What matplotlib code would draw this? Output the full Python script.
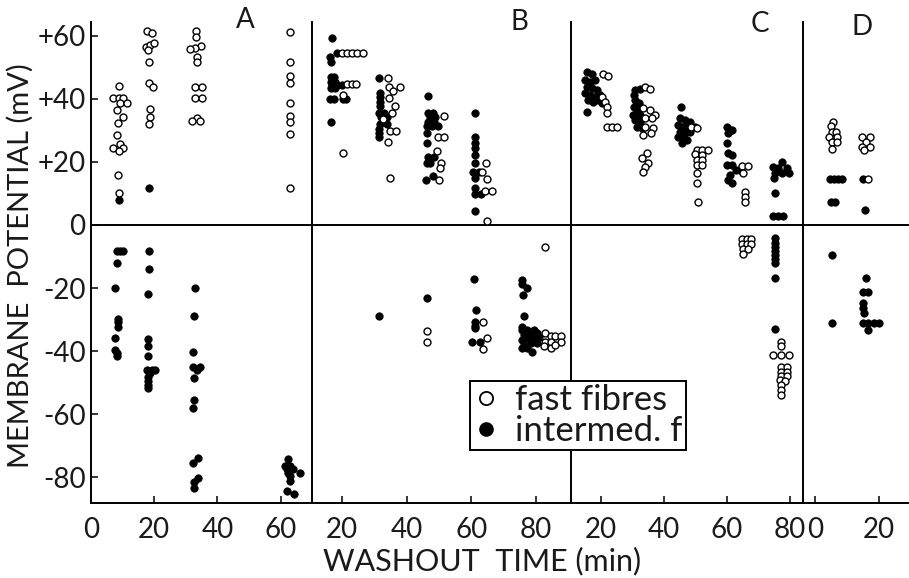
import matplotlib
matplotlib.use('Agg')
import matplotlib.pyplot as plt
from matplotlib.lines import Line2D

FONT = ['Lato', 'DejaVu Sans']
plt.rcParams['font.family'] = FONT
plt.rcParams['font.weight'] = 'normal'

# ---------------- data (washout time in min, membrane potential in mV) ----------------
panel_labels = ['A', 'B', 'C', 'D']

# Panel A
a_open_x = [9.0, 7.1, 9.0, 10.2, 9.2, 11.3, 8.1, 10.0, 8.6, 8.1, 9.2, 7.1, 10.2, 9.0, 8.6, 9.0,
            17.6, 19.2, 17.4, 18.7, 19.9, 17.9, 18.4, 18.4, 19.7, 18.7, 18.7, 18.4,
            33.2, 33.2, 34.8, 32.9, 31.3, 33.4, 33.4, 32.9, 35.0, 32.9, 35.0, 33.4, 32.1, 34.5,
            63.0, 63.0, 63.0, 63.0, 63.0, 63.0, 63.0, 63.0, 63.0]
a_open_y = [44.0, 40.1, 40.1, 40.1, 38.6, 38.6, 36.4, 34.3, 32.3, 28.5, 25.7, 24.5, 24.5, 23.4, 15.8, 10.1,
            61.6, 60.7, 56.5, 57.0, 57.5, 55.4, 51.7, 45.1, 43.6, 36.6, 34.3, 31.9,
            61.6, 59.7, 56.7, 56.2, 55.6, 53.3, 51.7, 43.8, 43.8, 40.1, 40.1, 33.8, 33.0, 33.0,
            61.2, 51.7, 47.2, 45.1, 38.7, 34.5, 32.7, 28.8, 11.6]
a_fill_x = [9.0, 18.4,
            8.1, 9.2, 10.0, 8.3, 7.6, 8.4, 8.4, 8.6, 7.6, 7.6, 8.1, 8.1,
            18.4, 18.4, 17.9, 17.9, 17.9, 18.1, 17.6, 19.2, 20.3, 18.7, 18.1, 18.1, 17.9, 17.9,
            32.9, 32.6, 32.4, 32.4, 34.5, 33.4, 32.6, 32.6, 32.4, 34.0, 32.4, 33.8, 32.6, 32.6,
            62.4, 61.4, 63.0, 61.9, 64.0, 62.4, 66.1, 63.0, 62.8, 61.9, 64.3]
a_fill_y = [7.9, 11.6,
            -8.2, -8.2, -8.2, -11.9, -20.1, -29.9, -30.9, -32.2, -35.9, -39.6, -40.6, -41.5,
            -8.2, -13.9, -21.9, -36.2, -38.5, -41.5, -45.9, -45.9, -45.9, -47.0, -48.1, -49.6, -50.7, -51.7,
            -20.1, -29.0, -40.1, -45.1, -45.1, -46.1, -48.4, -55.4, -58.1, -73.9, -75.3, -80.2, -81.6, -83.4,
            -74.2, -76.5, -76.5, -77.4, -77.4, -78.7, -78.7, -79.7, -81.0, -84.2, -85.3]

# Panel B
b_open_x = [19.9, 21.4, 23.0, 24.6, 26.4, 21.4, 23.0, 24.2, 20.4, 20.4,
            34.1, 34.4, 37.8, 35.7, 34.6, 36.5, 35.4, 32.8, 34.9, 36.8, 34.1, 34.9,
            51.7, 49.6, 51.7, 49.4, 50.6, 50.2, 49.9,
            64.7, 63.4, 64.9, 64.4, 66.5, 64.9,
            82.8, 46.3, 46.3, 63.7, 64.9, 63.7,
            83.0, 84.6, 86.1, 87.9, 83.0, 84.6, 87.9, 82.5, 84.6, 86.1]
b_open_y = [54.4, 54.4, 54.4, 54.4, 54.4, 44.7, 44.7, 44.7, 41.2, 22.9,
            46.5, 43.7, 43.7, 42.5, 40.1, 37.7, 35.6, 33.5, 29.9, 29.9, 26.2, 14.8,
            34.5, 28.0, 28.0, 23.5, 19.7, 18.0, 14.3,
            19.5, 16.9, 14.5, 10.9, 10.9, 1.4,
            -6.9, -33.6, -37.0, -30.8, -35.9, -39.4,
            -34.1, -35.3, -35.3, -35.3, -37.2, -37.2, -37.2, -38.5, -39.1, -38.0]
b_fill_x = [16.8, 18.4, 16.3, 16.5, 16.5, 17.5, 16.5, 17.8, 16.8, 18.4, 19.9, 16.5, 17.8, 16.3, 17.5, 20.4, 21.2, 16.5,
            31.6, 31.8, 31.8, 31.8, 31.8, 31.3, 33.0, 32.0, 33.9, 33.0, 31.8, 33.9, 31.3, 31.5, 31.5,
            46.6, 46.5, 48.2, 47.3, 48.9, 46.5, 48.4, 46.3, 47.9, 49.7, 46.3, 46.3, 46.5, 48.4, 46.3, 47.3, 48.2, 46.0,
            61.1, 61.3, 61.1, 61.1, 61.1, 61.1, 60.6, 62.3, 61.1, 61.1, 61.1, 62.9, 61.1,
            61.0, 46.3, 31.5, 61.5, 61.1, 61.1, 61.1, 60.3, 62.6,
            75.8, 75.8, 77.4, 76.1, 76.3, 75.8,
            75.8, 77.4, 79.4, 76.3, 78.4, 80.4, 75.8, 77.4, 79.4, 81.0, 76.3, 78.4, 80.4, 77.4, 78.9, 75.8]
b_fill_y = [59.1, 54.4, 53.1, 51.7, 46.8, 46.8, 45.4, 45.4, 44.3, 44.3, 44.3, 43.3, 43.3, 39.8, 39.8, 39.8, 39.8, 32.7,
            46.5, 41.9, 40.6, 39.1, 37.7, 35.4, 35.4, 34.3, 34.3, 33.0, 32.0, 32.0, 30.3, 29.2, 28.0,
            40.9, 35.6, 35.6, 34.3, 34.3, 32.7, 32.7, 31.4, 31.4, 31.4, 29.2, 25.9, 21.6, 21.6, 19.5, 19.5, 15.5, 14.3,
            35.6, 27.8, 26.1, 24.3, 22.2, 19.5, 16.9, 16.9, 14.8, 11.6, 9.8, 9.8, 4.5,
            -17.2, -23.0, -29.0, -26.9, -30.6, -32.0, -32.7, -37.0, -37.0,
            -17.4, -18.7, -20.1, -22.2, -29.0, -32.2,
            -33.3, -33.3, -33.3, -34.9, -34.9, -34.3, -36.4, -35.9, -35.9, -35.4, -38.0, -37.5, -37.5, -39.1, -40.1, -39.1]

# Panel C
c_open_x = [20.7, 22.3, 20.2, 21.3, 21.8, 21.8, 21.8, 23.4, 25.0,
            34.0, 35.6, 33.4, 35.6, 37.1, 34.0, 36.1, 34.0, 36.6, 33.4, 35.8, 34.5, 33.1, 35.0, 34.0, 33.4,
            48.6, 50.4, 50.4, 52.2, 53.9, 49.8, 52.0, 50.4, 52.0, 50.4, 52.0, 50.6, 50.6, 50.9,
            64.7, 66.6, 65.2, 65.7, 65.7, 65.7,
            64.7, 66.3, 67.6, 64.7, 66.3, 67.6, 65.2, 66.8, 65.2,
            77.1, 77.1, 74.7, 77.1, 79.5,
            77.1, 79.0, 77.1, 79.0, 77.1, 79.0, 76.8, 78.4, 77.1, 77.1, 77.1]
c_open_y = [47.8, 47.2, 40.6, 39.1, 37.5, 35.6, 31.1, 31.1, 31.1,
            43.8, 43.2, 37.0, 36.4, 34.8, 33.8, 33.8, 31.1, 30.6, 28.5, 29.0, 22.7, 21.1, 19.5, 18.5, 16.9,
            30.9, 30.6, 23.8, 23.8, 23.8, 22.6, 22.2, 20.7, 20.5, 19.0, 19.0, 16.6, 13.2, 7.4,
            18.8, 18.8, 16.4, 10.5, 9.0, 7.4,
            -4.5, -4.5, -4.5, -6.0, -6.0, -6.0, -7.7, -7.7, -9.3,
            -37.0, -38.5, -41.2, -41.2, -41.2,
            -44.9, -44.9, -46.5, -46.5, -47.8, -47.8, -49.1, -49.6, -50.7, -52.3, -53.8]
c_fill_x = [15.5, 17.1, 14.9, 16.5, 18.1, 15.5, 17.1, 18.6, 14.9, 16.5, 18.1, 19.7, 16.0, 17.6, 19.1, 20.2, 15.5,
            30.8, 32.4, 30.6, 30.8, 32.1, 30.6, 31.3, 30.3, 32.4, 30.8, 32.4, 31.3, 32.9,
            45.4, 45.1, 46.7, 48.3, 44.5, 46.1, 47.7, 45.1, 46.7, 48.3, 44.5, 46.1, 45.6, 47.2, 49.8,
            59.9, 61.5, 60.4, 59.9, 60.2, 61.5, 59.9, 61.5, 62.8, 60.9, 60.4, 61.5, 64.1,
            77.4, 74.7, 76.3, 79.0, 75.2, 77.4, 79.5, 75.0, 75.2, 74.7, 76.3, 77.9,
            75.2, 75.2, 75.2, 75.2, 75.2, 75.2, 75.2, 75.2, 75.2]
c_fill_y = [48.3, 47.8, 45.9, 45.4, 45.9, 43.8, 43.3, 42.8, 41.7, 41.2, 40.6, 41.2, 39.6, 39.1, 39.6, 38.6, 35.9,
            42.8, 43.1, 41.2, 39.6, 38.6, 37.5, 36.5, 34.8, 34.8, 33.2, 32.7, 31.1, 30.6,
            37.3, 33.8, 33.2, 32.7, 31.6, 31.1, 31.1, 29.5, 29.0, 29.5, 28.0, 27.5, 25.9, 27.0, 31.1,
            31.0, 30.2, 29.0, 25.9, 22.7, 22.2, 19.0, 19.0, 17.4, 15.8, 14.3, 13.2, 17.4,
            20.1, 18.5, 18.0, 18.0, 16.4, 16.4, 16.6, 14.8, 10.2, 2.9, 2.9, 2.9,
            -4.2, -5.6, -6.9, -8.1, -9.5, -10.9, -11.9, -16.9, -33.0]

# Panel D
d_open_x = [5.7, 4.9, 5.2, 6.6, 4.5, 6.8, 5.2, 6.8, 5.4,
            14.6, 17.2, 15.9, 14.6, 17.2, 15.3, 16.5]
d_open_y = [32.7, 31.4, 29.6, 29.6, 28.0, 28.0, 26.4, 26.4, 24.1,
            28.0, 28.0, 26.4, 24.8, 24.8, 23.6, 14.6]
d_fill_x = [4.7, 5.9, 7.3, 8.6, 4.9, 6.2, 5.4, 5.4,
            15.1, 15.6, 15.9, 15.1, 16.7, 15.1, 15.1, 15.3, 15.1, 16.7, 18.4, 20.0, 16.7]
d_fill_y = [14.6, 14.6, 14.6, 14.6, 7.4, 7.4, -9.5, -31.1,
            14.6, 4.8, -16.9, -21.1, -21.1, -24.8, -26.4, -28.0, -31.1, -31.1, -31.1, -31.1, -33.3]

x_ticks = [[0, 20, 40, 60], [20, 40, 60, 80], [20, 40, 60, 80], [0, 20]]
x_ticklabels = [['0', '20', '40', '60'], ['20', '40', '60', '80'], ['20', '40', '60', '80'], ['0', '20']]
x_limits = [(0, 69.9), (10.7, 90.9), (10.5, 84.1), (-3.75, 29.4)]
y_ticks = [60, 40, 20, 0, -20, -40, -60, -80]
y_ticklabels = ['+60', '+40', '+20', '0', '-20', '-40', '-60', '-80']
y_limits = (-88.1, 64.3)
legend_labels = ['fast fibres', 'intermed. f']

open_x = [a_open_x, b_open_x, c_open_x, d_open_x]
open_y = [a_open_y, b_open_y, c_open_y, d_open_y]
fill_x = [a_fill_x, b_fill_x, c_fill_x, d_fill_x]
fill_y = [a_fill_y, b_fill_y, c_fill_y, d_fill_y]

# ---------------- figure ----------------
FS = 20
LW = 1.4
TXT = '#1a1a1a'
fig = plt.figure(figsize=(9.09, 5.78), dpi=100)
gs = fig.add_gridspec(1, 4, width_ratios=[221, 259, 232, 106],
                      left=91/909, right=1.0, bottom=1-503/578, top=1-22/578, wspace=0)

label_pos = [(0.70, 1.004), (0.80, 1.0), (0.815, 0.996), (0.557, 0.99)]
for i in range(4):
    ax = fig.add_subplot(gs[0, i])
    ax.set_xlim(*x_limits[i])
    ax.set_ylim(*y_limits)
    ax.axhline(0, color='black', lw=LW, zorder=1)
    ax.plot(fill_x[i], fill_y[i], linestyle='none', marker='o', markersize=5.3,
            markerfacecolor='black', markeredgecolor='black', markeredgewidth=0.6, zorder=3)
    ax.plot(open_x[i], open_y[i], linestyle='none', marker='o', markersize=5.0,
            markerfacecolor='white', markeredgecolor='black', markeredgewidth=1.0, zorder=4)
    for s in ('top', 'right'):
        ax.spines[s].set_visible(False)
    for s in ('left', 'bottom'):
        ax.spines[s].set_linewidth(LW)
    ax.set_xticks(x_ticks[i])
    ax.set_xticklabels(x_ticklabels[i], fontsize=FS, color=TXT)
    ax.tick_params(axis='x', direction='in', length=5, width=1.1, pad=10)
    if i == 0:
        ax.set_yticks(y_ticks)
        ax.set_yticklabels(y_ticklabels, fontsize=FS, color=TXT)
        ax.tick_params(axis='y', direction='in', length=5, width=1.1, pad=4)
    else:
        ax.set_yticks([])
    ax.text(label_pos[i][0], label_pos[i][1], panel_labels[i], transform=ax.transAxes,
            fontsize=FS, color=TXT, ha='center', va='center')
    ax.patch.set_visible(False)

fig.text(0.022, 1-266/578, 'MEMBRANE  POTENTIAL (mV)', rotation=90, ha='center', va='center',
         fontsize=21, color=TXT)
fig.text(482/909, 1-561/578, 'WASHOUT  TIME (min)', ha='center', va='center',
         fontsize=22, color=TXT)

handles = [Line2D([], [], linestyle='none', marker='o', markersize=9.5, markerfacecolor='white',
                  markeredgecolor='black', markeredgewidth=1.3),
           Line2D([], [], linestyle='none', marker='o', markersize=9.5, markerfacecolor='black',
                  markeredgecolor='black')]
leg = fig.legend(handles, legend_labels, loc='upper left', bbox_to_anchor=(470/909, 1-381/578),
                 frameon=True, fancybox=False, edgecolor='black', framealpha=1,
                 borderaxespad=0, prop={'size': 25}, handlelength=0.7,
                 handletextpad=0.5, borderpad=0.1, labelspacing=-0.05)
for t in leg.get_texts():
    t.set_color(TXT)
leg.get_frame().set_linewidth(LW)

fig.savefig('out.png', dpi=100)
